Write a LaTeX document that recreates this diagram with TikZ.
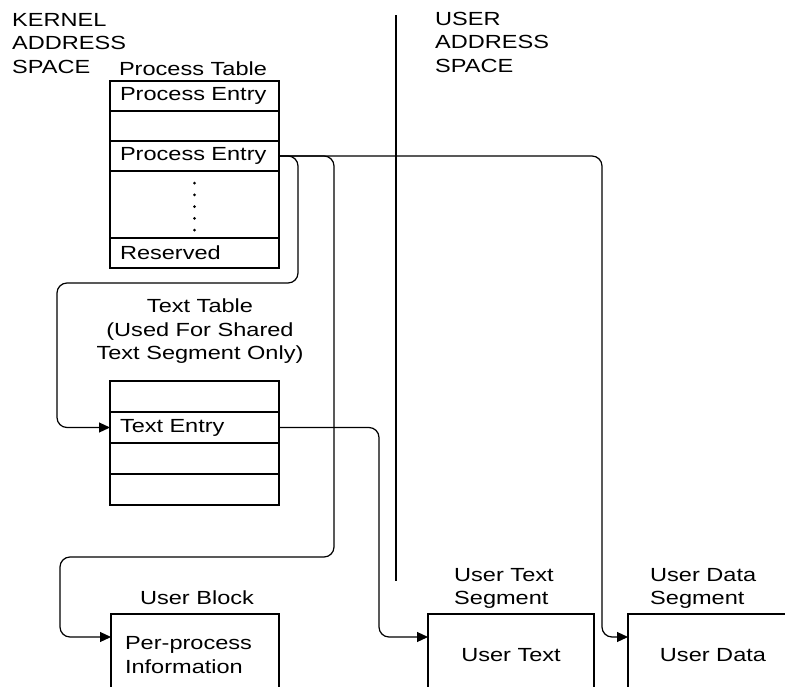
\documentclass[tikz,border=0pt]{standalone}
\usepackage{fontspec}
\setmainfont{Liberation Sans}[FakeStretch = 1.24]
\usetikzlibrary{arrows.meta}

\begin{document}
\begin{tikzpicture}[x = 1pt, y = -1pt]
\tikzstyle{every node}=[font = \fontsize{19}{23.5}\selectfont]
\tikzstyle{RowStyle}=[shape = rectangle,
                      draw,
                      line width = 1.2pt,
                      minimum height = 30pt,
                      inner xsep = 10pt, inner ysep = 0pt, outer sep = 0pt,
                      text width = 149pt, align = left]
\tikzstyle{BoxStyle}=[shape = rectangle,
                      draw,
                      line width = 1.2pt,
                      minimum height = 82pt,
                      inner sep = 0pt, outer sep = 0pt,
                      anchor = north west]
\tikzstyle{LabelStyle}=[inner sep = 0pt, align = left]
\tikzstyle{LinkStyle}=[line width = 1.2pt, rounded corners = 10pt,
                       -{Triangle[length = 11pt, width = 10pt]}]
\useasboundingbox (0,0) rectangle (785,686);
\clip (0,0) rectangle (785,686);
% address spaces
\node[LabelStyle, anchor = north west] (kas) at (12,13) {KERNEL\\ADDRESS\\SPACE};
\node[LabelStyle, anchor = north west] (uas) at (435,12) {USER\\ADDRESS\\SPACE};
\coordinate (dtop) at (396,15);
\coordinate (dbot) at (396,581);
\draw[line width = 1.2pt] (dtop) -- (dbot);
% process table
\node[LabelStyle, anchor = north] (ptl) at (193,62) {Process Table};
\node[RowStyle] (pe1) at (194.5,96) {Process Entry};
\node[RowStyle] (pr2) at (194.5,126) {};
\node[RowStyle] (pe2) at (194.5,156) {Process Entry};
\node[RowStyle, minimum height = 67pt] (pdt) at (194.5,204.5) {};
\node[RowStyle] (res) at (194.5,253) {Reserved};
\foreach \k in {1,...,5}
  \fill ([yshift = {-(0.25 + \k*11.75)*1pt}]pdt.north) circle (1.5pt);
% text table
\node[LabelStyle, anchor = north, align = center] (ttl) at (200,299)
  {Text Table\\(Used For Shared\\Text Segment Only)};
\node[RowStyle, minimum height = 31pt] (tr1) at (194.5,396.5) {};
\node[RowStyle, minimum height = 31pt] (te) at (194.5,427.5) {Text Entry};
\node[RowStyle, minimum height = 31pt] (tr3) at (194.5,458.5) {};
\node[RowStyle, minimum height = 31pt] (tr4) at (194.5,489.5) {};
% user block and segments
\node[LabelStyle, anchor = north] (ubl) at (197,591) {User Block};
\node[BoxStyle, minimum width = 168pt, text width = 140pt, align = left] (ub) at (111,614)
  {Per-process\\Information};
\node[LabelStyle, anchor = north west] (utl) at (454,568) {User Text\\Segment};
\node[BoxStyle, minimum width = 166pt] (ut) at (428,614) {User Text};
\node[LabelStyle, anchor = north west] (udl) at (650,568) {User Data\\Segment};
\node[BoxStyle, minimum width = 170pt] (ud) at (628,614) {User Data};
% links
\draw[LinkStyle] (pe2.east) -| (298,283) -| (57,427.5) -- (te.west);
\draw[LinkStyle] (pe2.east) -| (334,557) -| (60,637) -- ([yshift = -23pt]ub.north west);
\draw[LinkStyle] (pe2.east) -| (602,637) -- ([yshift = -23pt]ud.north west);
\draw[LinkStyle] (te.east) -| (379,637) -- ([yshift = -23pt]ut.north west);
\end{tikzpicture}
\end{document}
